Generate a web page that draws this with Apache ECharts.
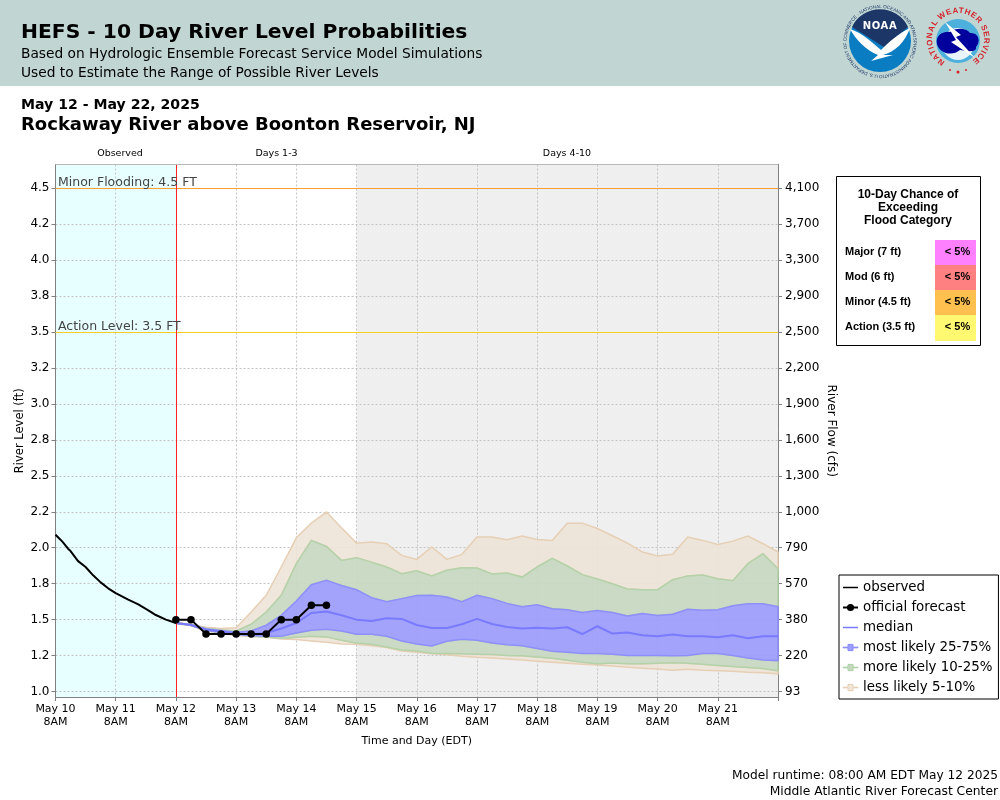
<!DOCTYPE html>
<html>
<head>
<meta charset="utf-8">
<title>HEFS - 10 Day River Level Probabilities</title>
<script src="https://cdn.jsdelivr.net/npm/echarts@6/dist/echarts.min.js"></script>
<style>
  html, body { margin: 0; padding: 0; background: #fff; }
  #chart { position: absolute; left: 0; top: 0; width: 1000px; height: 800px; }
  #logos { position: absolute; left: 830px; top: 0; }
</style>
</head>
<body>
<div id="chart"></div>
<!-- agency logos, rough redraw -->
<svg id="logos" width="170" height="86" viewBox="830 0 170 86">
  <defs>
    <path id="noaaRing" d="M 880 75 A 33.5 33.5 0 1 1 880.1 75"/>
    <path id="nwsRing" d="M 945 61.5 A 26 26 0 1 1 971 61.5"/>
  </defs>
  <text font-family="Liberation Sans" font-size="4.6" fill="#1d3668">
    <textPath href="#noaaRing" startOffset="1%">U.S. DEPARTMENT OF COMMERCE · NATIONAL OCEANIC AND ATMOSPHERIC ADMINISTRATION ·</textPath>
  </text>
  <circle cx="880" cy="41" r="31" fill="#0a7dc2"/>
  <path d="M 852 27 A 31 31 0 0 1 908 27 L 884 47 Z" fill="#1d3668"/>
  <path d="M 850 29 C 862 33 872 42 881 50 C 889 42 898 34 910 28 C 905 42 895 52 883 55 L 893 55 L 871 61 L 878 55 C 866 50 856 40 850 29 Z" fill="#fff"/>
  <text x="880" y="29" text-anchor="middle" font-family="DejaVu Sans" font-weight="bold" font-size="10" letter-spacing=".6" fill="#fff">NOAA</text>
  <circle cx="958" cy="41" r="22" fill="#4db0dc"/>
  <circle cx="958" cy="44" r="16" fill="#e8f4fa"/>
  <path d="M 937 44 C 935 34 945 31 950 32 C 956 27 967 28 970 33 C 979 32 981 42 976 47 C 977 53 966 51 960 50 C 952 57 939 53 937 44 Z" fill="#00009c"/>
  <path d="M 945 22 L 961 35 L 956 37 L 975 58 L 951 42 L 956 40 Z" fill="#fff"/>
  <text font-family="Liberation Sans" font-weight="bold" font-size="8" fill="#d6202a">
    <textPath href="#nwsRing" textLength="134" lengthAdjust="spacing">NATIONAL WEATHER SERVICE</textPath>
  </text>
  <circle cx="950" cy="70" r="1" fill="#d6202a"/>
  <circle cx="958" cy="72" r="1.5" fill="#d6202a"/>
  <circle cx="966" cy="70" r="1" fill="#d6202a"/>
</svg>
<script>
// hours after May 10 8AM
const tickLabels = ['May 10\n8AM', 'May 11\n8AM', 'May 12\n8AM', 'May 13\n8AM', 'May 14\n8AM', 'May 15\n8AM', 'May 16\n8AM', 'May 17\n8AM', 'May 18\n8AM', 'May 19\n8AM', 'May 20\n8AM', 'May 21\n8AM', '']

const stageTicks = [1.0, 1.25, 1.5, 1.75, 2.0, 2.25, 2.5, 2.75, 3.0, 3.25, 3.5, 3.75, 4.0, 4.25, 4.5]
const stageLabels = ['1.0', '1.2', '1.5', '1.8', '2.0', '2.2', '2.5', '2.8', '3.0', '3.2', '3.5', '3.8', '4.0', '4.2', '4.5']
const flowLabels = ['93', '220', '380', '570', '790', '1,000', '1,300', '1,600', '1,900', '2,200', '2,500', '2,900', '3,300', '3,700', '4,100']

const obsHours = [0, 2, 3, 5, 6, 9, 12, 15, 18, 21, 24, 29, 33, 37, 40, 44, 48]
const obsLevels = [2.090, 2.056, 2.037, 1.993, 1.977, 1.907, 1.866, 1.808, 1.759, 1.718, 1.685, 1.639, 1.606, 1.565, 1.532, 1.500, 1.477]

const fcstHours = [48, 54, 60, 66, 72, 78, 84, 90, 96, 102, 108]
const fcstLevels = [1.5, 1.5, 1.4, 1.4, 1.4, 1.4, 1.4, 1.5, 1.5, 1.6, 1.6]

const bandHours = [48, 54, 60, 66, 72, 78, 84, 90, 96, 102, 108, 114, 120, 126, 132, 138, 144, 150, 156, 162, 168, 174, 180, 186, 192, 198, 204, 210, 216, 222, 228, 234, 240, 246, 252, 258, 264, 270, 276, 282, 288]
const p05 = [1.481, 1.468, 1.447, 1.438, 1.444, 1.553, 1.669, 1.866, 2.069, 2.171, 2.248, 2.139, 2.032, 2.039, 2.028, 1.947, 1.919, 2.005, 1.919, 1.954, 2.074, 2.074, 2.056, 2.081, 2.058, 2.051, 2.171, 2.171, 2.134, 2.083, 2.032, 1.970, 1.942, 1.954, 2.074, 2.051, 2.023, 2.046, 2.081, 2.028, 1.970]
const p10 = [1.479, 1.465, 1.440, 1.428, 1.421, 1.468, 1.553, 1.669, 1.889, 2.051, 2.009, 1.912, 1.931, 1.900, 1.866, 1.819, 1.840, 1.803, 1.843, 1.861, 1.859, 1.817, 1.824, 1.796, 1.866, 1.926, 1.873, 1.813, 1.782, 1.750, 1.713, 1.708, 1.708, 1.778, 1.803, 1.810, 1.785, 1.771, 1.889, 1.958, 1.854]
const p25 = [1.479, 1.465, 1.435, 1.424, 1.412, 1.421, 1.461, 1.530, 1.630, 1.743, 1.773, 1.738, 1.708, 1.653, 1.625, 1.646, 1.667, 1.669, 1.657, 1.625, 1.669, 1.646, 1.613, 1.590, 1.604, 1.576, 1.569, 1.549, 1.563, 1.549, 1.525, 1.542, 1.528, 1.537, 1.572, 1.565, 1.569, 1.597, 1.611, 1.611, 1.590]
const p50 = [1.477, 1.463, 1.431, 1.417, 1.403, 1.396, 1.407, 1.438, 1.477, 1.546, 1.556, 1.530, 1.500, 1.491, 1.509, 1.505, 1.463, 1.442, 1.442, 1.468, 1.505, 1.470, 1.449, 1.438, 1.444, 1.438, 1.447, 1.400, 1.454, 1.403, 1.410, 1.391, 1.384, 1.396, 1.384, 1.384, 1.377, 1.391, 1.370, 1.384, 1.384]
const p75 = [1.475, 1.461, 1.426, 1.410, 1.396, 1.389, 1.384, 1.384, 1.407, 1.426, 1.433, 1.421, 1.398, 1.398, 1.384, 1.352, 1.331, 1.317, 1.350, 1.363, 1.356, 1.338, 1.326, 1.319, 1.299, 1.280, 1.273, 1.264, 1.264, 1.259, 1.250, 1.250, 1.250, 1.248, 1.250, 1.264, 1.264, 1.250, 1.234, 1.220, 1.215]
const p90 = [1.475, 1.461, 1.424, 1.407, 1.394, 1.384, 1.380, 1.370, 1.377, 1.384, 1.380, 1.356, 1.338, 1.329, 1.310, 1.289, 1.282, 1.266, 1.264, 1.262, 1.259, 1.257, 1.250, 1.248, 1.241, 1.231, 1.218, 1.204, 1.194, 1.199, 1.194, 1.194, 1.197, 1.201, 1.197, 1.190, 1.181, 1.174, 1.167, 1.160, 1.144]
const p95 = [1.472, 1.458, 1.421, 1.405, 1.389, 1.382, 1.377, 1.366, 1.361, 1.352, 1.343, 1.331, 1.329, 1.319, 1.306, 1.282, 1.273, 1.262, 1.255, 1.245, 1.238, 1.234, 1.227, 1.220, 1.211, 1.204, 1.197, 1.190, 1.185, 1.178, 1.169, 1.162, 1.157, 1.148, 1.155, 1.148, 1.144, 1.141, 1.134, 1.130, 1.123]

const floodNames = ['Major (7 ft)', 'Mod (6 ft)', 'Minor (4.5 ft)', 'Action (3.5 ft)']
const floodChances = ['< 5%', '< 5%', '< 5%', '< 5%']
const floodColors = ['#ff80ff', '#ff8080', '#ffc050', '#fff870']

const HEADER = '#c1d6d3'
const SANS = 'DejaVu Sans'

const zip = (xs, ys) => xs.map((x, i) => [x, ys[i]])

// one filled band between two percentile lines, drawn as a single polygon
function band(name, upper, lower, fill, edge) {
  return {
    type: 'custom',
    name: name,
    silent: true,
    z: 2,
    itemStyle: { color: fill, borderColor: edge },
    data: bandHours.map((h, i) => [h, upper[i], lower[i]]),
    encode: { x: 0, y: [1, 2] },
    renderItem(params, api) {
      if (params.dataIndex !== 0) return null
      const top = bandHours.map((h, i) => api.coord([h, upper[i]]))
      const bottom = bandHours.map((h, i) => api.coord([h, lower[i]])).reverse()
      return {
        type: 'polygon',
        shape: { points: top.concat(bottom) },
        style: { fill: fill, stroke: edge, lineWidth: 1.5 }
      }
    }
  }
}

// the stray moves keep the full icon box, so the line stays thin
const lineIcon = 'path://M0 0M0 3.8H24V6.2H0ZM24 10'
const swatchIcon = 'path://M0 4.5H8V0H16V4.5H24V5.5H16V10H8V5.5H0Z'

function text(x, y, str, size, weight, extra) {
  return {
    type: 'text', x: x, y: y, silent: true,
    style: Object.assign({
      text: str, font: (weight || 'normal') + ' ' + size + 'px "' + SANS + '"',
      fill: '#000', textVerticalAlign: 'middle'
    }, extra || {})
  }
}

const floodTable = [
  { type: 'rect', shape: { x: 836.5, y: 176.5, width: 144, height: 169 }, style: { fill: '#fff', stroke: '#000', lineWidth: 1 } },
  text(908, 195, '10-Day Chance of', 12, 'bold', { font: 'bold 12px "Liberation Sans"', textAlign: 'center' }),
  text(908, 208, 'Exceeding', 12, 'bold', { font: 'bold 12px "Liberation Sans"', textAlign: 'center' }),
  text(908, 221, 'Flood Category', 12, 'bold', { font: 'bold 12px "Liberation Sans"', textAlign: 'center' })
]
floodNames.forEach((name, i) => {
  const rowY = 240 + i * 25
  floodTable.push({ type: 'rect', shape: { x: 935, y: rowY, width: 41, height: i === 3 ? 26 : 25 }, style: { fill: floodColors[i] } })
  floodTable.push(text(845, rowY + 11.5, name, 11, 'bold', { font: 'bold 11px "Liberation Sans"' }))
  floodTable.push(text(957.5, rowY + 11.5, floodChances[i], 11, 'bold', { font: 'bold 11px "Liberation Sans"', textAlign: 'center' }))
})

const chart = echarts.init(document.getElementById('chart'))
chart.setOption({
  animation: false,
  backgroundColor: '#fff',
  textStyle: { fontFamily: SANS },
  grid: { left: 55.5, right: 222, top: 164.5, bottom: 103, show: false, outerBoundsMode: 'none' },
  xAxis: {
    type: 'value', min: 0, max: 288, interval: 24,
    name: 'Time and Day (EDT)', nameLocation: 'middle', nameGap: 39, nameMoveOverlap: false,
    nameTextStyle: { fontSize: 11, color: '#000' },
    axisLine: { lineStyle: { color: '#808080' } },
    axisTick: { length: 4, lineStyle: { color: '#808080' } },
    axisLabel: {
      fontSize: 11, color: '#000', lineHeight: 13, margin: 6,
      showMinLabel: true, showMaxLabel: true, hideOverlap: false,
      formatter: v => tickLabels[v / 24]
    },
    splitLine: { show: true, lineStyle: { color: '#c4c4c4', type: [2, 2] } },
    z: 1
  },
  yAxis: [
    {
      type: 'value', min: 0.962, max: 4.665,
      name: 'River Level (ft)', nameLocation: 'middle', nameGap: 29, nameRotate: 90, nameMoveOverlap: false,
      nameTextStyle: { fontSize: 11.5, color: '#000' },
      axisLine: { show: true, lineStyle: { color: '#808080' } },
      axisTick: { show: true, length: 4, customValues: stageTicks, lineStyle: { color: '#808080' } },
      axisLabel: {
        fontSize: 12, color: '#000', margin: 6, customValues: stageTicks,
        formatter: v => stageLabels[stageTicks.indexOf(v)]
      },
      splitLine: { show: true, lineStyle: { color: '#c4c4c4', type: [2, 2] } },
      z: 1
    },
    {
      type: 'value', min: 0.962, max: 4.665, position: 'right',
      name: 'River Flow (cfs)', nameLocation: 'middle', nameGap: 47, nameRotate: -90, nameMoveOverlap: false,
      nameTextStyle: { fontSize: 12, color: '#000' },
      axisLine: { show: true, lineStyle: { color: '#808080' } },
      axisTick: { show: true, length: 4, customValues: stageTicks, lineStyle: { color: '#808080' } },
      axisLabel: {
        fontSize: 12, color: '#000', margin: 7, customValues: stageTicks,
        formatter: v => flowLabels[stageTicks.indexOf(v)]
      },
      splitLine: { show: false },
      z: 1
    }
  ],
  legend: {
    orient: 'vertical', left: 839, top: 575, padding: [6, 6, 5, 3],
    backgroundColor: '#fff', borderColor: '#000', borderWidth: 1, borderRadius: 0,
    itemWidth: 15, itemHeight: 9, itemGap: 7, selectedMode: false,
    textStyle: { fontSize: 13.4, color: '#000' },
    data: [
      { name: 'observed', icon: lineIcon, itemStyle: { color: '#000' } },
      { name: 'official forecast' },
      { name: 'median', icon: lineIcon, itemStyle: { color: '#7a7aff' } },
      { name: 'most likely 25-75%', icon: swatchIcon, itemStyle: { color: '#9e9efc', borderColor: '#8888ff', borderWidth: 1 } },
      { name: 'more likely 10-25%', icon: swatchIcon, itemStyle: { color: '#c8d8c0', borderColor: '#a9d0a0', borderWidth: 1 } },
      { name: 'less likely 5-10%', icon: swatchIcon, itemStyle: { color: '#f0e6da', borderColor: '#e4cdb0', borderWidth: 1 } }
    ]
  },
  series: [
    {
      // shaded periods behind the grid
      type: 'line', name: 'periods', data: [], silent: true, z: 0,
      markArea: {
        silent: true, z: 0,
        data: [
          [{ xAxis: 0, itemStyle: { color: '#e8ffff' } }, { xAxis: 48 }],
          [{ xAxis: 120, itemStyle: { color: '#efefef' } }, { xAxis: 288 }]
        ]
      }
    },
    band('less likely 5-10%', p05, p10, 'rgba(238,228,215,.88)', '#e6cfb4'),
    band('less likely 5-10%', p90, p95, 'rgba(238,228,215,.88)', '#e6cfb4'),
    band('more likely 10-25%', p10, p25, 'rgba(200,216,192,.92)', '#b4d2aa'),
    band('more likely 10-25%', p75, p90, 'rgba(200,216,192,.92)', '#b4d2aa'),
    band('most likely 25-75%', p25, p75, 'rgba(158,158,252,.95)', '#8f8ffb'),
    {
      type: 'line', name: 'median', z: 3, showSymbol: false, symbol: 'none',
      data: zip(bandHours, p50),
      itemStyle: { color: '#7a7aff' },
      lineStyle: { color: '#7a7aff', width: 2 }
    },
    {
      type: 'line', name: 'observed', z: 5, showSymbol: false, symbol: 'none',
      data: zip(obsHours, obsLevels),
      itemStyle: { color: '#000' },
      lineStyle: { color: '#000', width: 2 }
    },
    {
      type: 'line', name: 'official forecast', z: 6, symbol: 'circle', symbolSize: 7.5,
      data: zip(fcstHours, fcstLevels),
      itemStyle: { color: '#000' },
      lineStyle: { color: '#000', width: 2 },
      markLine: {
        silent: true, symbol: 'none', z: 4,
        data: [
          {
            yAxis: 4.5, lineStyle: { color: '#ff9f30', width: 1, type: 'solid' },
            label: { formatter: 'Minor Flooding: 4.5 FT', position: 'insideStartTop', color: '#444', fontSize: 12.5, distance: -1, padding: [0, 0, 0, 3.5] }
          },
          {
            yAxis: 3.5, lineStyle: { color: '#f5cf20', width: 1, type: 'solid' },
            label: { formatter: 'Action Level: 3.5 FT', position: 'insideStartTop', color: '#444', fontSize: 12.5, distance: -1, padding: [0, 0, 0, 3.5] }
          },
          { xAxis: 48, lineStyle: { color: '#ff2020', width: 1, type: 'solid' }, label: { show: false } }
        ]
      }
    }
  ],
  graphic: [
    { type: 'rect', shape: { x: 0, y: 0, width: 1000, height: 86 }, style: { fill: HEADER }, z: -1, silent: true },
    text(21, 33, 'HEFS - 10 Day River Level Probabilities', 20.3, 'bold'),
    text(21, 54, 'Based on Hydrologic Ensemble Forecast Service Model Simulations', 13.75),
    text(21, 73, 'Used to Estimate the Range of Possible River Levels', 13.75),
    text(21, 105, 'May 12 - May 22, 2025', 14.1, 'bold'),
    text(21, 125, 'Rockaway River above Boonton Reservoir, NJ', 18, 'bold'),
    text(120, 154, 'Observed', 9.5, 'normal', { textAlign: 'center' }),
    text(276.5, 154, 'Days 1-3', 9.5, 'normal', { textAlign: 'center' }),
    text(567, 154, 'Days 4-10', 9.5, 'normal', { textAlign: 'center' }),
    text(998, 775.5, 'Model runtime: 08:00 AM EDT May 12 2025', 12.2, 'normal', { textAlign: 'right' }),
    text(998, 791.5, 'Middle Atlantic River Forecast Center', 12.3, 'normal', { textAlign: 'right' }),
    // light frame on top of the plot
    { type: 'line', shape: { x1: 55.5, y1: 164.5, x2: 778, y2: 164.5 }, style: { stroke: '#b8b8b8', lineWidth: 1 }, silent: true, z: 10 }
  ].concat(floodTable)
})
</script>
</body>
</html>
